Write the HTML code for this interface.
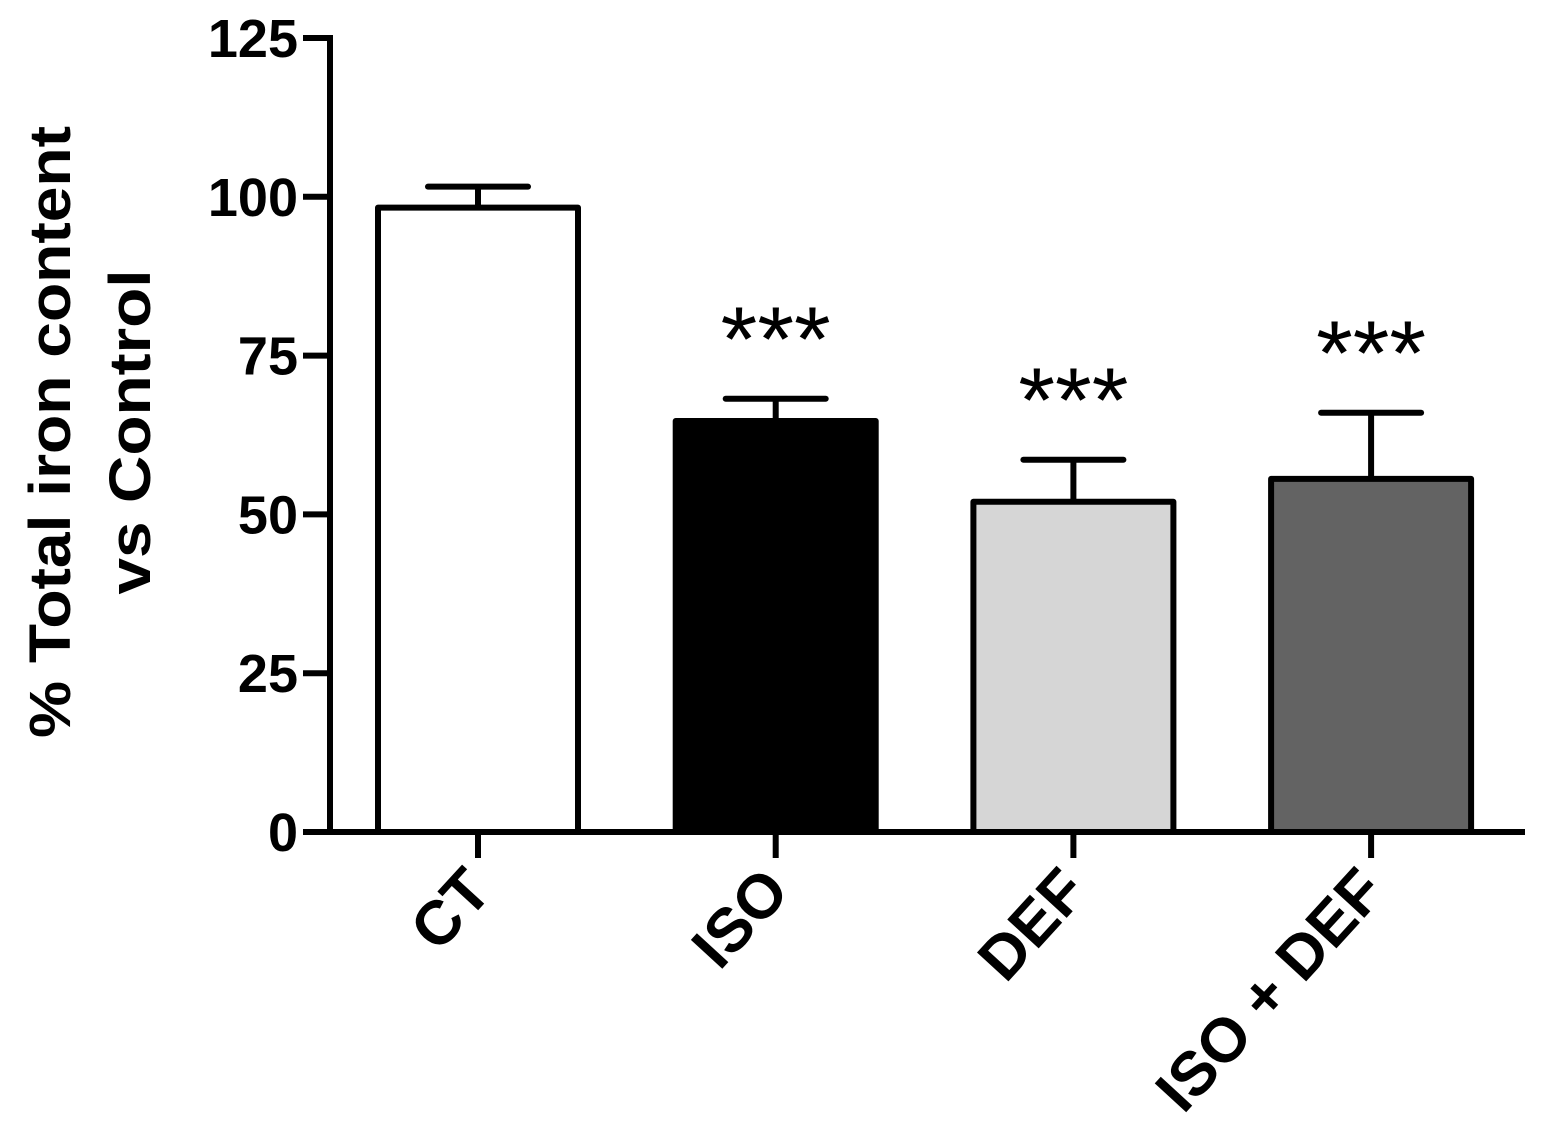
<!DOCTYPE html>
<html><head><meta charset="utf-8"><style>
html,body{margin:0;padding:0;background:#fff;}
svg{display:block;font-family:"Liberation Sans",Arial,sans-serif;font-weight:bold;}
</style></head><body>
<svg id="chart" width="1543" height="1140" viewBox="0 0 1543 1140" xmlns="http://www.w3.org/2000/svg">
<g id="ytitle">
<text transform="translate(70,432) rotate(-90)" text-anchor="middle" font-size="58" textLength="612" lengthAdjust="spacingAndGlyphs">% Total iron content</text>
<text transform="translate(150,432) rotate(-90)" text-anchor="middle" font-size="58" textLength="325" lengthAdjust="spacingAndGlyphs">vs Control</text>
</g>
<g id="plot"></g>
</svg>
<script>
const categories = ["CT", "ISO", "DEF", "ISO + DEF"];
const values = [98.3, 64.7, 52.0, 55.6];
const errors = [3.3, 3.5, 6.6, 10.4];
const fills = ["#ffffff", "#000000", "#d6d6d6", "#636363"];
const stars = ["", "***", "***", "***"];
const yTicks = [0, 25, 50, 75, 100, 125];

const NS = "http://www.w3.org/2000/svg";
const g = document.getElementById("plot");
const y0 = 832, yTop = 38, axX = 330;
function yScale(v){ return y0 - v * (y0 - yTop) / 125; }
const centers0 = 478, step = 297.7, barW = 200;
function xScale(i){ return centers0 + i * step; }
function mk(tag, attrs){ const e = document.createElementNS(NS, tag); for (const k in attrs) e.setAttribute(k, attrs[k]); g.appendChild(e); return e; }

categories.forEach((c, i) => {
  const cx = xScale(i);
  const top = yScale(values[i]);
  const et = yScale(values[i] + errors[i]);
  const eb = mk("line", {x1: cx, x2: cx, y1: top, y2: et, stroke: "#000", "stroke-width": 6});
  
  
  const cap = mk("line", {x1: cx - 50, x2: cx + 50, y1: et, y2: et, stroke: "#000", "stroke-width": 6, "stroke-linecap": "round"});
  
  
  const r = mk("rect", {x: cx - barW / 2, y: top, width: barW, height: y0 - top, fill: fills[i], stroke: "#000", "stroke-width": 6, "stroke-linejoin": "round"});
  
  
  if (stars[i]) {
    const s = mk("text", {x: cx, y: et - 28, "text-anchor": "middle", "font-size": "92", "font-weight": "normal", textLength: "110", lengthAdjust: "spacingAndGlyphs"});
    s.textContent = stars[i];
    
    
  }
  const t = mk("line", {x1: cx, x2: cx, y1: y0, y2: 858, stroke: "#000", "stroke-width": 6});
  
  
  const lab = mk("text", {transform: "translate(" + (cx + 16) + ",893) rotate(-47.5)", "text-anchor": "end", "font-size": "62"});
  lab.textContent = c;
  
  
});

yTicks.forEach(v => {
  const y = yScale(v);
  const t = mk("line", {x1: 303, x2: axX, y1: y, y2: y, stroke: "#000", "stroke-width": 6});
  
  
  const l = mk("text", {x: 298, y: y + 19, "text-anchor": "end", "font-size": "54"});
  l.textContent = v;
  
  
});

const ya = mk("line", {x1: axX, x2: axX, y1: yTop - 3, y2: y0 + 3, stroke: "#000", "stroke-width": 6});


const xa = mk("line", {x1: axX - 3, x2: 1525, y1: y0, y2: y0, stroke: "#000", "stroke-width": 6});


</script>
</body></html>
